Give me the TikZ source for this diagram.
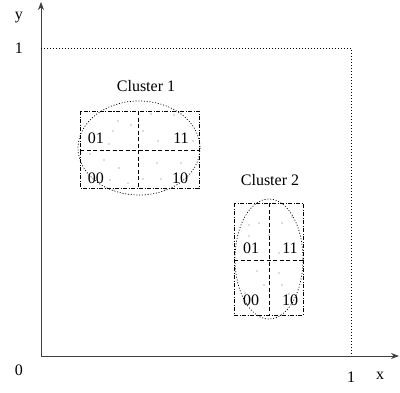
\documentclass[tikz,border=0pt]{standalone}
\usepackage{fontspec}
\setmainfont{Liberation Serif}
\usetikzlibrary{arrows.meta}
\begin{document}
\begin{tikzpicture}[x=1pt,y=-1pt,
  lbl/.style={inner sep=0pt,font=\fontsize{16}{18}\selectfont},
  axis/.style={line width=0.8pt,draw=black!75,-{Stealth[length=8pt,width=6pt]}},
  guide/.style={line width=0.7pt,dash pattern=on 1pt off 2pt},
  cellbox/.style={line width=0.7pt,dash pattern=on 4pt off 1.5pt on 1pt off 1.5pt},
  split/.style={line width=0.7pt,dash pattern=on 4pt off 2.5pt},
  clus/.style={line width=0.7pt,dash pattern=on 1pt off 1.8pt},
  pt/.style={fill=black!60}]
\useasboundingbox (0,0) rectangle (400,392);
% axes
\coordinate (O) at (41,356);
\coordinate (xend) at (399,356);
\coordinate (yend) at (41,2);
\coordinate (x1) at (351,356);
\coordinate (y1) at (41,48);
\coordinate (c11) at (351,48);
\draw[axis] (O) -- (xend);
\draw[axis] (O) -- (yend);
\draw[guide] (y1) -- (c11) -- (x1);
\node[lbl] (ly) at (19,18) {y};
\node[lbl] (l1y) at (19,48) {1};
\node[lbl] (l0) at (19,370) {0};
\node[lbl] (l1x) at (351,377) {1};
\node[lbl] (lx) at (380,376) {x};
% cluster 1
\node[lbl] (c1) at (146,86) {Cluster 1};
\draw[cellbox] (80,111) rectangle (199,188);
\draw[split] (138,111) -- (138,188);
\draw[split] (80,150) -- (199,150);
\draw[clus] (139,148) ellipse [x radius=61, y radius=47];
\node[lbl] (a01) at (96,138) {01};
\node[lbl] (a11) at (181,138) {11};
\node[lbl] (a00) at (96,178) {00};
\node[lbl] (a10) at (180,178) {10};
% cluster 2
\node[lbl] (c2) at (270,180) {Cluster 2};
\draw[cellbox] (234,203) rectangle (303,315);
\draw[split] (269,203) -- (269,315);
\draw[split] (234,260) -- (303,260);
\draw[clus] (269,259) ellipse [x radius=34, y radius=60];
\node[lbl] (b01) at (251,248) {01};
\node[lbl] (b11) at (290,248) {11};
\node[lbl] (b00) at (251,300) {00};
\node[lbl] (b10) at (290,300) {10};
% scattered points
\foreach \p in {(118,121),(113,131),(109,144),(131,125),(151,114),(143,131),(158,141),(174,115),(193,141),
  (90,154),(104,160),(119,168),(110,180),(128,183),(114,190),(157,163),(181,163),(143,179),(161,179),(165,190),
  (249,225),(259,223),(282,223),(292,217),(249,236),(269,235),(279,253),
  (257,271),(279,273),(264,285),(282,285),(245,293),(289,294)}
  \fill[pt] \p circle (0.6);
\end{tikzpicture}
\end{document}
